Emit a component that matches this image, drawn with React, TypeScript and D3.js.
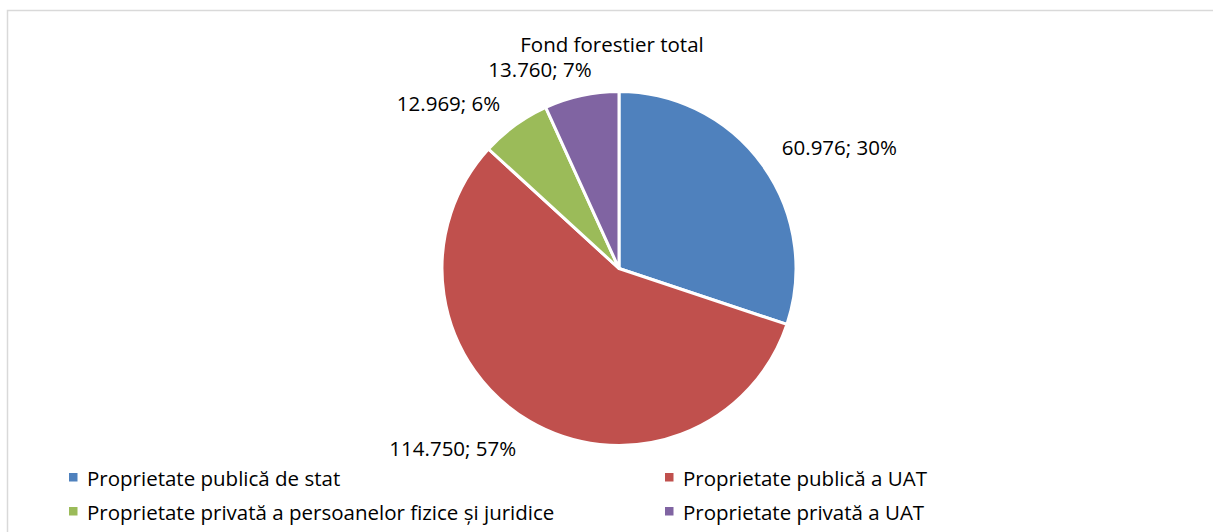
import React from "react";
import * as d3 from "d3";

const categories = [
  "Proprietate publică de stat",
  "Proprietate publică a UAT",
  "Proprietate privată a persoanelor fizice și juridice",
  "Proprietate privată a UAT",
];
const values = [60976, 114750, 12969, 13760];
const valueLabels = ["60.976", "114.750", "12.969", "13.760"];
const colors = ["#4F81BD", "#C0504D", "#9BBB59", "#8064A2"];
const title = "Fond forestier total";

const W = 1213;
const H = 532;
const cx = 619;
const cy = 268.5;
const R = 177;
const FONT = "'Open Sans', sans-serif";
const FS = 20.5;

function measure(text: string): number {
  const c = document.createElement("canvas").getContext("2d");
  if (!c) return text.length * FS * 0.5;
  c.font = `${FS}px 'Open Sans'`;
  return c.measureText(text).width;
}

export default function App() {
  const total = d3.sum(values);
  const pie = d3.pie<number>().sort(null).value((d) => d)(values);
  const arc = d3.arc<d3.PieArcDatum<number>>().innerRadius(0).outerRadius(R);

  const legendX = [69, 665];
  const legendBase = [486, 520];

  return (
    <svg
      width={W}
      height={H}
      style={{ position: "absolute", left: 0, top: 0, background: "#fff" }}
      fontFamily={FONT}
    >
      <rect x={7.5} y={10.5} width={1220} height={540} fill="#fff" stroke="#d9d9d9" strokeWidth={1.5} />
      <text x={612} y={52} textAnchor="middle" fontSize={FS} fill="#000">
        {title}
      </text>
      <g transform={`translate(${cx},${cy})`}>
        {pie.map((p, i) => (
          <path key={i} d={arc(p) || ""} fill={colors[i]} stroke="#fff" strokeWidth={3} strokeLinejoin="round" />
        ))}
        {pie.map((p, i) => {
          const mid = (p.startAngle + p.endAngle) / 2;
          const rr = R + 20;
          const s = Math.sin(mid);
          const c = Math.cos(mid);
          const x = s * rr;
          const y = -c * rr;
          const pct = Math.round((values[i] / total) * 100);
          const label = `${valueLabels[i]}; ${pct}%`;
          const w = measure(label);
          const f = Math.min(1, 0.45 + Math.abs(s) * 1.8);
          const left = s >= 0 ? x + 3 : x - w * f - 3;
          const base = c >= 0 ? y + 1.5 : y + 18;
          return (
            <text key={i} x={left} y={base} fontSize={FS} fill="#000">
              {label}
            </text>
          );
        })}
      </g>
      {categories.map((c, i) => {
        const col = i % 2;
        const row = Math.floor(i / 2);
        const x = legendX[col];
        const b = legendBase[row];
        return (
          <g key={i}>
            <rect x={x} y={b - 13} width={8.5} height={8.5} fill={colors[i]} />
            <text x={x + 18} y={b} fontSize={FS} fill="#000">
              {c}
            </text>
          </g>
        );
      })}
    </svg>
  );
}
